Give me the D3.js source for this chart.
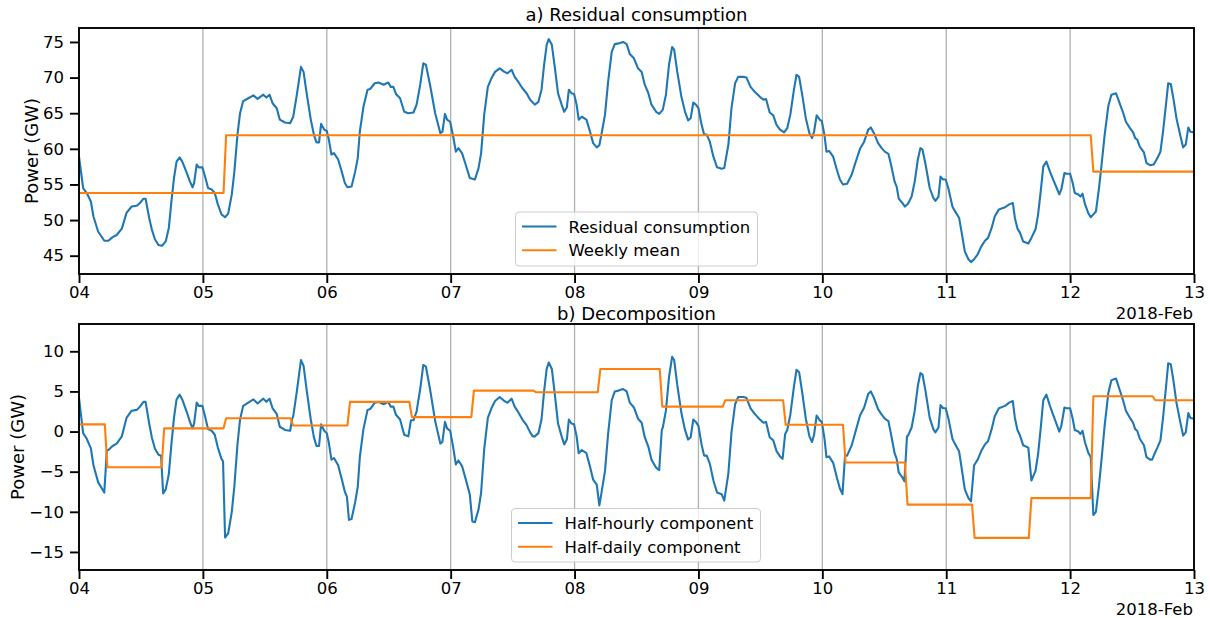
<!DOCTYPE html>
<html><head><meta charset="utf-8">
<script src="https://cdn.jsdelivr.net/npm/d3@7"></script>
<style>
body{margin:0;background:#fff}
svg text{font-family:"DejaVu Sans",sans-serif;fill:#000}
</style>
</head><body>
<svg id="chart" width="1210" height="618"></svg>
<script>
// ---------- DATA (hours since 2018-02-04 00:00, GW) ----------
const startDate = Date.UTC(2018, 1, 4);
const endHour = 216;
const offsetLabel = "2018-Feb";

const residual = [[0,58.9],[0.8,54.5],[1.5,53.8],[2.3,52.6],[2.8,50.5],[3.7,48.4],[4.9,47.1],[5.7,47.1],[6.5,47.6],[7.3,47.9],[8.3,48.8],[9.2,51.0],[10.2,51.9],[11.2,52.0],[11.8,52.4],[12.5,53.0],[12.9,53.0],[13.6,50.3],[14.1,48.7],[14.7,47.3],[15.4,46.5],[16.1,46.4],[16.8,47.0],[17.4,48.9],[17.9,52.6],[18.4,55.9],[18.9,58.2],[19.5,58.8],[20.0,58.2],[20.9,56.6],[21.5,55.4],[22.0,54.6],[22.3,55.2],[22.8,57.8],[23.2,57.4],[23.9,57.4],[24.5,55.9],[25.0,54.5],[25.7,54.3],[26.3,53.8],[26.9,52.2],[27.6,50.8],[28.3,50.4],[28.9,50.9],[29.6,53.6],[30.1,56.8],[30.7,62.0],[31.2,65.0],[31.8,66.7],[32.8,67.1],[33.8,67.5],[34.6,67.0],[35.7,67.6],[36.3,67.2],[36.9,67.6],[37.5,66.4],[38.3,65.7],[38.9,64.1],[39.9,63.7],[40.9,63.6],[41.5,64.5],[42.2,67.6],[43.0,71.5],[43.5,70.8],[44.1,67.8],[44.9,64.1],[45.5,62.0],[46.0,60.9],[46.5,60.9],[46.9,63.5],[47.5,62.7],[48.0,62.5],[48.4,61.3],[48.9,59.2],[49.4,59.4],[50.2,58.5],[50.9,56.8],[51.5,55.2],[52.0,54.6],[52.8,54.7],[53.5,56.8],[54.0,58.7],[54.4,62.4],[55.1,65.9],[55.9,68.3],[56.4,68.4],[57.3,69.2],[58.0,69.3],[59.0,69.0],[59.9,69.3],[60.4,68.7],[60.9,68.7],[61.4,67.7],[62.2,67.1],[63.0,65.2],[63.8,65.0],[64.8,65.1],[65.4,66.2],[66.1,69.0],[66.7,72.0],[67.2,71.8],[68.0,69.0],[69.0,65.0],[70.0,62.2],[70.4,62.4],[70.9,64.9],[71.3,64.1],[71.9,63.8],[72.5,61.7],[73.0,59.6],[73.5,60.1],[74.2,59.4],[74.9,57.8],[75.7,55.9],[76.7,55.7],[77.4,57.3],[77.9,59.4],[78.5,64.8],[79.2,68.7],[79.9,69.9],[80.6,70.8],[81.5,71.3],[82.4,70.8],[83.0,70.6],[83.8,71.1],[84.4,70.1],[85.1,69.4],[85.9,68.5],[86.7,67.8],[87.4,66.9],[88.3,66.2],[89.0,66.6],[89.6,68.3],[90.1,71.8],[90.6,74.6],[91.0,75.4],[91.6,74.6],[92.2,71.3],[92.8,67.8],[93.5,66.2],[94.0,65.2],[94.5,65.8],[94.9,68.3],[95.4,67.8],[95.9,67.7],[96.4,66.2],[96.8,64.1],[97.4,64.5],[98.3,64.1],[99.0,62.4],[99.6,60.8],[100.3,60.2],[100.8,60.5],[101.2,62.0],[101.9,64.8],[102.5,69.4],[103.2,73.6],[103.8,74.7],[104.5,74.8],[105.4,75.0],[106.1,74.7],[106.7,73.3],[107.5,72.7],[108.3,71.3],[109.0,70.8],[109.6,69.0],[110.3,67.8],[110.9,66.2],[111.8,65.2],[112.4,64.9],[113.1,65.5],[113.7,67.6],[114.3,71.8],[114.9,74.3],[115.3,73.9],[115.9,70.8],[116.7,67.3],[117.4,65.2],[118.0,64.0],[118.5,64.3],[119.0,66.5],[119.5,66.2],[120.0,65.7],[120.6,63.4],[121.1,62.0],[121.6,62.0],[122.2,61.0],[122.9,58.9],[123.6,57.4],[124.5,57.2],[125.0,57.3],[125.8,60.6],[126.4,65.7],[127.1,69.2],[127.7,70.1],[128.7,70.1],[129.3,70.0],[130.1,68.7],[130.9,68.0],[131.9,67.3],[132.6,66.9],[133.1,67.0],[133.8,65.1],[134.5,64.7],[135.1,63.4],[135.8,62.7],[136.6,62.3],[137.2,62.9],[137.8,64.8],[138.5,68.3],[139.0,70.4],[139.5,70.1],[140.1,67.6],[140.8,64.3],[141.5,62.2],[142.0,61.5],[142.4,62.4],[142.9,64.7],[143.5,64.1],[143.9,63.9],[144.4,62.0],[144.8,59.6],[145.3,59.7],[146.1,58.9],[146.8,57.1],[147.4,55.7],[148.0,55.0],[148.8,55.1],[149.7,56.4],[150.3,57.8],[151.3,60.0],[152.1,61.0],[152.9,62.7],[153.4,63.0],[154.0,62.2],[154.8,60.8],[155.5,60.1],[156.1,59.6],[156.8,59.3],[157.3,57.8],[158.0,55.4],[158.4,54.7],[158.8,53.0],[159.5,52.4],[160.0,51.9],[160.6,52.3],[161.3,53.3],[161.9,55.4],[162.5,58.5],[163.0,60.1],[163.4,59.9],[164.0,57.8],[164.8,54.5],[165.5,53.1],[165.9,52.7],[166.5,53.3],[166.9,56.1],[167.4,55.7],[167.9,55.7],[168.4,54.5],[169.2,51.9],[169.5,51.5],[170.5,50.3],[171.0,48.2],[171.6,45.6],[172.3,44.5],[172.8,44.1],[173.4,44.5],[174.1,45.2],[174.8,46.3],[175.5,47.1],[176.1,47.5],[176.8,48.9],[177.4,50.5],[178.2,51.5],[179.4,51.8],[180.2,52.2],[180.9,52.4],[181.3,50.3],[181.8,48.8],[182.3,48.2],[182.9,47.0],[183.9,46.7],[184.5,47.5],[185.3,48.7],[185.8,50.8],[186.3,54.0],[186.8,57.5],[187.4,58.2],[188.1,56.8],[188.7,55.7],[189.4,54.5],[189.9,53.6],[190.3,54.3],[190.9,56.6],[191.3,56.5],[192.0,56.5],[192.5,55.2],[192.9,53.8],[193.6,53.6],[194.0,53.3],[194.4,53.7],[194.9,52.2],[195.5,51.0],[196.0,50.4],[196.5,50.8],[197.0,51.2],[197.6,54.5],[198.1,57.8],[198.7,62.0],[199.4,66.0],[200.0,67.6],[200.9,67.8],[201.5,66.6],[202.3,65.0],[202.8,63.8],[203.6,62.9],[204.2,62.3],[204.6,61.5],[205.0,61.3],[205.5,60.3],[206.3,59.5],[206.8,58.0],[207.5,57.7],[208.2,57.8],[208.9,58.7],[209.5,59.6],[210.0,62.4],[210.6,66.4],[211.0,69.2],[211.5,69.1],[212.0,67.1],[212.6,64.3],[213.3,62.0],[213.9,60.2],[214.4,60.6],[214.9,63.0],[215.3,62.4],[216.0,62.3]];

const weeklyStarts = [0, 28, 196];
const weeklyValues = [53.8, 61.9, 56.8];

const halfHourly = [[0,4.2],[0.8,-0.2],[1.5,-0.9],[2.3,-2.1],[2.8,-4.2],[3.7,-6.3],[4.9,-7.6],[5.4,-2.3],[5.7,-2.3],[6.5,-1.8],[7.3,-1.5],[8.3,-0.6],[9.2,1.7],[10.2,2.6],[11.2,2.7],[11.8,3.1],[12.5,3.7],[12.9,3.7],[13.6,1.0],[14.1,-0.7],[14.7,-2.1],[15.4,-2.9],[15.9,-3.0],[16.3,-7.7],[16.8,-7.2],[17.4,-5.3],[17.9,-1.6],[18.4,1.7],[18.9,4.0],[19.5,4.6],[20.0,4.0],[20.9,2.4],[21.5,1.2],[22.0,0.4],[22.3,1.0],[22.8,3.6],[23.2,3.2],[23.9,3.2],[24.5,1.7],[25.0,0.3],[25.7,0.1],[26.3,-0.4],[26.9,-2.0],[27.6,-3.4],[27.9,-3.7],[28.3,-13.2],[28.9,-12.7],[29.6,-10.0],[30.1,-6.8],[30.7,-1.6],[31.2,1.5],[31.8,3.2],[32.8,3.6],[33.8,4.0],[34.6,3.5],[35.7,4.1],[36.3,3.7],[36.9,4.1],[37.5,2.9],[38.3,2.2],[38.9,0.6],[39.9,0.2],[40.9,0.1],[41.3,1.6],[41.5,1.9],[42.2,5.0],[43.0,8.9],[43.5,8.2],[44.1,5.2],[44.9,1.5],[45.5,-0.7],[46.0,-1.8],[46.5,-1.8],[46.9,0.9],[47.5,0.1],[48.0,-0.2],[48.4,-1.4],[48.9,-3.5],[49.4,-3.3],[50.2,-4.2],[50.9,-5.9],[51.5,-7.5],[51.9,-8.1],[52.3,-11.0],[52.8,-10.9],[53.5,-8.8],[54.0,-6.9],[54.4,-3.2],[55.1,0.3],[55.9,2.7],[56.4,2.8],[57.3,3.6],[58.0,3.7],[59.0,3.4],[59.9,3.7],[60.4,3.1],[60.9,3.1],[61.4,2.1],[62.2,1.5],[63.0,-0.4],[63.8,-0.6],[64.3,1.4],[64.8,1.4],[65.4,2.5],[66.1,5.3],[66.7,8.3],[67.2,8.1],[68.0,5.3],[69.0,1.3],[70.0,-1.5],[70.4,-1.3],[70.9,1.2],[71.3,0.4],[71.9,0.1],[72.5,-2.0],[73.0,-4.1],[73.5,-3.6],[74.2,-4.3],[74.9,-5.9],[75.7,-7.8],[76.2,-11.2],[76.7,-11.3],[77.4,-9.7],[77.9,-7.6],[78.5,-2.2],[79.2,1.7],[79.9,2.9],[80.6,3.8],[81.5,4.3],[82.4,3.8],[83.0,3.6],[83.8,4.1],[84.4,3.1],[85.1,2.4],[85.9,1.5],[86.7,0.8],[87.4,-0.1],[87.9,-0.6],[88.3,-0.6],[89.0,-0.2],[89.6,1.5],[90.1,5.0],[90.6,7.8],[91.0,8.6],[91.6,7.8],[92.2,4.5],[92.8,1.0],[93.5,-0.6],[94.0,-1.6],[94.5,-1.0],[94.9,1.5],[95.4,1.0],[95.9,0.9],[96.4,-0.6],[96.8,-2.7],[97.4,-2.3],[98.3,-2.7],[99.0,-4.4],[99.6,-6.0],[100.3,-6.6],[100.8,-9.2],[101.2,-7.7],[101.9,-4.9],[102.5,-0.3],[103.2,3.9],[103.8,5.0],[104.5,5.1],[105.4,5.3],[106.1,5.0],[106.7,3.6],[107.5,3.0],[108.3,1.6],[109.0,1.1],[109.6,-0.7],[110.3,-1.9],[110.9,-3.5],[111.8,-4.5],[112.4,-4.8],[112.9,0.2],[113.1,0.5],[113.7,2.6],[114.3,6.8],[114.9,9.3],[115.3,8.9],[115.9,5.8],[116.7,2.3],[117.4,0.2],[118.0,-1.0],[118.5,-0.7],[119.0,1.5],[119.5,1.2],[120.0,0.7],[120.6,-1.6],[121.1,-3.0],[121.6,-3.0],[122.2,-4.0],[122.9,-6.1],[123.6,-7.6],[124.5,-7.8],[125.0,-8.6],[125.8,-5.2],[126.4,-0.1],[127.1,3.4],[127.7,4.3],[128.7,4.3],[129.3,4.2],[130.1,2.9],[130.9,2.2],[131.9,1.5],[132.6,1.1],[133.1,1.2],[133.8,-0.7],[134.5,-1.1],[135.1,-2.4],[135.8,-3.1],[136.3,-3.4],[136.8,-0.3],[137.2,0.2],[137.8,2.1],[138.5,5.6],[139.0,7.7],[139.5,7.4],[140.1,4.9],[140.8,1.6],[141.5,-0.6],[142.0,-1.3],[142.4,-0.4],[142.9,2.0],[143.5,1.4],[143.9,1.2],[144.4,-0.8],[144.8,-3.2],[145.3,-3.1],[146.1,-3.9],[146.8,-5.7],[147.4,-7.1],[147.9,-7.8],[148.4,-3.0],[148.8,-3.0],[149.7,-1.7],[150.3,-0.3],[151.3,2.0],[152.1,3.0],[152.9,4.7],[153.4,5.0],[154.0,4.2],[154.8,2.8],[155.5,2.1],[156.1,1.6],[156.8,1.3],[157.3,-0.3],[158.0,-2.7],[158.4,-3.4],[158.8,-5.1],[159.5,-5.7],[159.9,-6.2],[160.4,-0.6],[160.6,-0.5],[161.3,0.5],[161.9,2.6],[162.5,5.7],[163.0,7.3],[163.4,7.1],[164.0,5.0],[164.8,1.7],[165.5,0.3],[165.9,-0.1],[166.5,0.5],[166.9,3.3],[167.4,2.9],[167.9,2.9],[168.4,1.7],[169.2,-0.9],[169.5,-1.3],[170.5,-2.5],[171.0,-4.6],[171.6,-7.2],[172.3,-8.3],[172.8,-8.7],[173.4,-4.2],[174.1,-3.5],[174.8,-2.4],[175.5,-1.6],[176.1,-1.2],[176.8,0.3],[177.4,1.9],[178.2,2.9],[179.4,3.2],[180.2,3.6],[180.9,3.8],[181.3,1.7],[181.8,0.2],[182.3,-0.5],[182.9,-1.7],[183.9,-2.0],[184.5,-6.1],[185.3,-4.9],[185.8,-2.8],[186.3,0.4],[186.8,3.9],[187.4,4.6],[188.1,3.2],[188.7,2.1],[189.4,0.9],[189.9,0.0],[190.3,0.7],[190.9,3.0],[191.3,2.9],[192.0,2.9],[192.5,1.6],[192.9,0.2],[193.6,0.0],[194.0,-0.3],[194.4,0.1],[194.9,-1.4],[195.5,-2.6],[196.0,-3.2],[196.5,-10.4],[197.0,-10.0],[197.6,-6.7],[198.1,-3.4],[198.7,0.8],[199.4,4.8],[200.0,6.4],[200.9,6.6],[201.5,5.4],[202.3,3.8],[202.8,2.6],[203.6,1.7],[204.2,1.1],[204.6,0.3],[205.0,0.1],[205.5,-0.9],[206.3,-1.7],[206.8,-3.2],[207.5,-3.5],[207.9,-3.5],[208.4,-2.7],[208.9,-2.0],[209.5,-1.1],[210.0,1.7],[210.6,5.7],[211.0,8.5],[211.5,8.4],[212.0,6.4],[212.6,3.6],[213.3,1.3],[213.9,-0.5],[214.4,-0.1],[214.9,2.3],[215.3,1.7],[216.0,1.6]];

const halfDailyStarts = [0, 5, 16, 28, 41, 52, 64, 76, 88, 100.5, 112.5, 124.7, 136.4, 148, 160, 173, 184, 196, 208];
const halfDailyValues = [0.9, -4.45, 0.4, 1.65, 0.75, 3.7, 1.8, 5.1, 4.9, 7.8, 3.1, 3.9, 0.85, -3.85, -9.1, -13.25, -8.3, 4.4, 3.9];

const yTicksTop = [45, 50, 55, 60, 65, 70, 75];
const yTicksBottom = [-15, -10, -5, 0, 5, 10];
const yDomainTop = [42.43, 76.96];
const yDomainBottom = [-17.25, 13.4];

const titles = ["a) Residual consumption", "b) Decomposition"];
const yLabel = "Power (GW)";
const legendTop = ["Residual consumption", "Weekly mean"];
const legendBottom = ["Half-hourly component", "Half-daily component"];

// ---------- RENDER ----------
const BLUE = "#1f77b4", ORANGE = "#ff7f0e";
const svg = d3.select("#chart");
const toDate = h => new Date(startDate + h * 3600e3);
const x = d3.scaleUtc().domain([toDate(0), toDate(endHour)]).range([79, 1194]);
const dayTicks = d3.utcDay.range(toDate(0), toDate(endHour + 1));

function stepPoints(starts, values, end) {
  const pts = [];
  starts.forEach((s, i) => {
    const x0 = i === 0 ? s : s + 0.5;
    const x1 = i < starts.length - 1 ? starts[i + 1] : end;
    pts.push([x0, values[i]], [x1, values[i]]);
  });
  return pts;
}

function panel(cfg) {
  const y = d3.scaleLinear().domain(cfg.yDomain).range([cfg.bottom, cfg.top]);
  const g = svg.append("g");
  const clipId = "clip" + cfg.idx;
  svg.append("clipPath").attr("id", clipId).append("rect")
    .attr("x", 79).attr("y", cfg.top).attr("width", 1194 - 79).attr("height", cfg.bottom - cfg.top);

  // grid
  g.append("g").selectAll("line").data(dayTicks.slice(1, -1)).join("line")
    .attr("x1", d => x(d)).attr("x2", d => x(d))
    .attr("y1", cfg.top).attr("y2", cfg.bottom)
    .attr("stroke", "#b0b0b0").attr("stroke-width", 1.3);

  const line = d3.line().x(d => x(toDate(d[0]))).y(d => y(d[1]));
  const lg = g.append("g").attr("clip-path", `url(#${clipId})`);
  cfg.series.forEach(s => {
    lg.append("path").datum(s.data).attr("d", line)
      .attr("fill", "none").attr("stroke", s.color).attr("stroke-width", 2.1)
      .attr("stroke-linejoin", "round").attr("stroke-linecap", "butt");
  });

  // spines
  g.append("rect").attr("x", 79).attr("y", cfg.top).attr("width", 1194 - 79).attr("height", cfg.bottom - cfg.top)
    .attr("fill", "none").attr("stroke", "#000").attr("stroke-width", 1.9);

  // axes
  const fmtY = d => d < 0 ? "\u2212" + Math.abs(d) : String(d);
  const ya = g.append("g").attr("transform", "translate(79,0)")
    .call(d3.axisLeft(y).tickValues(cfg.yTicks).tickFormat(fmtY).tickSize(9).tickSizeOuter(0).tickPadding(6));
  const xa = g.append("g").attr("transform", `translate(0,${cfg.bottom})`)
    .call(d3.axisBottom(x).tickValues(dayTicks).tickFormat(d3.utcFormat("%d")).tickSize(9).tickSizeOuter(0).tickPadding(3.5));
  [ya, xa].forEach(a => {
    a.select(".domain").remove();
    a.attr("font-family", null).attr("font-size", null);
    a.selectAll(".tick line").attr("stroke", "#000").attr("stroke-width", 1.9);
    a.selectAll(".tick text").attr("font-size", "16.5px").attr("fill", "#000");
  });

  // title
  g.append("text").attr("x", (79 + 1194) / 2).attr("y", cfg.titleY).attr("text-anchor", "middle")
    .attr("font-size", "18px").text(cfg.title);
  // offset label
  g.append("text").attr("x", 1193).attr("y", cfg.bottom + 45).attr("text-anchor", "end")
    .attr("font-size", "16.5px").text(offsetLabel);
  // y label
  g.append("text").attr("transform", `translate(${cfg.ylabelX},${(cfg.top + cfg.bottom) / 2}) rotate(-90)`)
    .attr("text-anchor", "middle").attr("font-size", "18px").text(yLabel);

  // legend
  const L = cfg.legend;
  const lgd = g.append("g");
  lgd.append("rect").attr("x", L.x).attr("y", L.y).attr("width", L.w).attr("height", L.h)
    .attr("rx", 3.5).attr("fill", "#fff").attr("fill-opacity", 0.8)
    .attr("stroke", "#cccccc").attr("stroke-width", 1);
  cfg.series.forEach((s, i) => {
    const cy = L.y + 14.5 + i * 23.8;
    lgd.append("line").attr("x1", L.x + 6.5).attr("x2", L.x + 41).attr("y1", cy).attr("y2", cy)
      .attr("stroke", s.color).attr("stroke-width", 2.1);
    lgd.append("text").attr("x", L.x + 53).attr("y", cy + 6).attr("font-size", "16.5px").text(L.labels[i]);
  });
}

panel({
  idx: 0, top: 28, bottom: 274, yDomain: yDomainTop, yTicks: yTicksTop, title: titles[0], titleY: 21, ylabelX: 38,
  series: [
    { data: residual, color: BLUE },
    { data: stepPoints(weeklyStarts, weeklyValues, endHour), color: ORANGE }
  ],
  legend: { x: 515.5, y: 212, w: 242, h: 54, labels: legendTop }
});

panel({
  idx: 1, top: 324, bottom: 570, yDomain: yDomainBottom, yTicks: yTicksBottom, title: titles[1], titleY: 319.5, ylabelX: 24,
  series: [
    { data: halfHourly, color: BLUE },
    { data: stepPoints(halfDailyStarts, halfDailyValues, endHour), color: ORANGE }
  ],
  legend: { x: 511.5, y: 508.5, w: 249, h: 53.5, labels: legendBottom }
});
</script>
</body></html>
